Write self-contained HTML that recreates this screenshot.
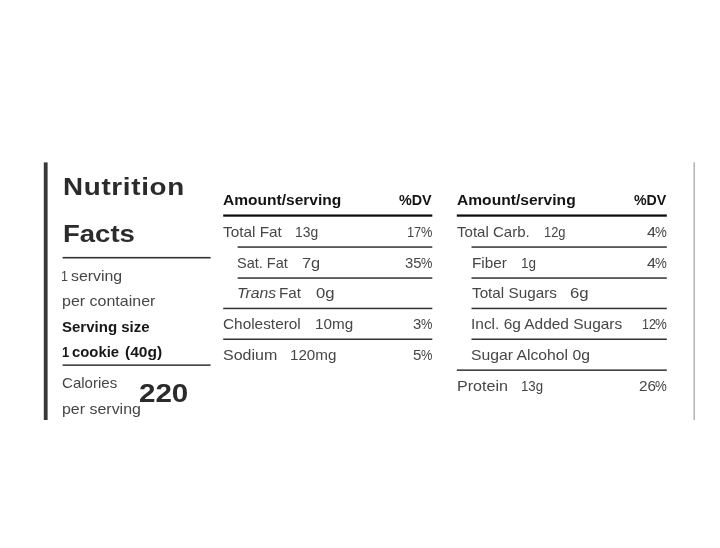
<!DOCTYPE html>
<html lang="en"><head><meta charset="utf-8"><title>Nutrition Facts</title>
<style>
html,body{margin:0;padding:0;background:#fff;}
body{width:720px;height:548px;position:relative;overflow:hidden;font-family:'Liberation Sans', sans-serif;}
.t{position:absolute;white-space:nowrap;transform-origin:0 0;}
.r{position:absolute;left:0;top:0;}
</style></head><body>
<svg class="r" width="720" height="548" viewBox="0 0 720 548">
<rect x="43.8" y="162.4" width="3.80" height="257.6" fill="#383838"/>
<rect x="62.6" y="256.9" width="148.00" height="1.6" fill="#323232"/>
<rect x="62.6" y="364.4" width="148.00" height="1.5" fill="#323232"/>
<rect x="693.45" y="162.2" width="1.55" height="257.8" fill="#b6b6b6"/>
<rect x="223.2" y="214.45" width="209.10" height="2.25" fill="#0c0c0c"/>
<rect x="237.6" y="246.3" width="194.70" height="1.5" fill="#323232"/>
<rect x="237.6" y="277.3" width="194.70" height="1.5" fill="#323232"/>
<rect x="223.2" y="307.7" width="209.10" height="1.5" fill="#323232"/>
<rect x="223.2" y="338.5" width="209.10" height="1.5" fill="#323232"/>
<rect x="456.8" y="214.45" width="210.00" height="2.25" fill="#0c0c0c"/>
<rect x="471.5" y="246.3" width="195.30" height="1.5" fill="#323232"/>
<rect x="471.5" y="277.3" width="195.30" height="1.5" fill="#323232"/>
<rect x="471.5" y="307.7" width="195.30" height="1.5" fill="#323232"/>
<rect x="471.5" y="338.5" width="195.30" height="1.5" fill="#323232"/>
<rect x="456.8" y="369.4" width="210.00" height="1.5" fill="#323232"/>
</svg>
<section class="facts-panel">
<span class="t" style="left:62.60px;top:175px;font-size:24.8px;line-height:24.8px;color:#2b2b2b;letter-spacing:0.617px;font-weight:700;transform:scaleX(1.1200);">Nutrition</span>
<span class="t" style="left:62.79px;top:222px;font-size:24.8px;line-height:24.8px;color:#2b2b2b;font-weight:700;transform:scaleX(1.1089);">Facts</span>
<span class="t" style="left:61.34px;top:269px;font-size:14.2px;line-height:14.2px;color:#464646;transform:scaleX(0.8736);">1</span>
<span class="t" style="left:71.17px;top:269px;font-size:14.2px;line-height:14.2px;color:#464646;transform:scaleX(1.1189);">serving</span>
<span class="t" style="left:62.45px;top:294px;font-size:14.2px;line-height:14.2px;color:#464646;transform:scaleX(1.1274);">per container</span>
<span class="t" style="left:62.07px;top:320px;font-size:14.2px;line-height:14.2px;color:#181818;font-weight:700;transform:scaleX(1.0585);">Serving size</span>
<span class="t" style="left:62.48px;top:345px;font-size:14.2px;line-height:14.2px;color:#181818;font-weight:700;transform:scaleX(0.9077);">1</span>
<span class="t" style="left:72.27px;top:345px;font-size:14.2px;line-height:14.2px;color:#181818;font-weight:700;transform:scaleX(1.0479);">cookie</span>
<span class="t" style="left:124.80px;top:345px;font-size:14.2px;line-height:14.2px;color:#181818;font-weight:700;transform:scaleX(1.0979);">(40g)</span>
<span class="t" style="left:62.14px;top:376px;font-size:14.2px;line-height:14.2px;color:#464646;transform:scaleX(1.0618);">Calories</span>
<span class="t" style="left:61.83px;top:402px;font-size:14.2px;line-height:14.2px;color:#464646;transform:scaleX(1.1240);">per serving</span>
<span class="t" style="left:139.30px;top:380px;font-size:26.4px;line-height:26.4px;color:#2b2b2b;font-weight:700;transform:scaleX(1.1197);">220</span>
</section>
<section class="facts-table">
<span class="t" style="left:223.06px;top:193px;font-size:14.0px;line-height:14.0px;color:#141414;font-weight:700;transform:scaleX(1.1098);">Amount/serving</span>
<span class="t" style="left:398.93px;top:193px;font-size:14.0px;line-height:14.0px;color:#141414;font-weight:700;transform:scaleX(1.0240);">%DV</span>
<span class="t" style="left:222.72px;top:225px;font-size:14.2px;line-height:14.2px;color:#464646;transform:scaleX(1.0822);">Total Fat</span>
<span class="t" style="left:294.82px;top:225px;font-size:14.2px;line-height:14.2px;color:#464646;transform:scaleX(0.9779);">13g</span>
<span class="t" style="left:407.47px;top:225px;font-size:14.2px;line-height:14.2px;color:#464646;transform:scaleX(0.9024);">17</span>
<span class="t" style="left:420.84px;top:225px;font-size:14.2px;line-height:14.2px;color:#464646;transform:scaleX(0.9031);">%</span>
<span class="t" style="left:236.61px;top:256px;font-size:14.2px;line-height:14.2px;color:#464646;transform:scaleX(1.0235);">Sat. Fat</span>
<span class="t" style="left:302.10px;top:256px;font-size:14.2px;line-height:14.2px;color:#464646;transform:scaleX(1.1554);">7g</span>
<span class="t" style="left:404.76px;top:256px;font-size:14.2px;line-height:14.2px;color:#464646;transform:scaleX(1.0426);">35</span>
<span class="t" style="left:420.84px;top:256px;font-size:14.2px;line-height:14.2px;color:#464646;transform:scaleX(0.9031);">%</span>
<span class="t" style="left:237.19px;top:286px;font-size:14.2px;line-height:14.2px;color:#464646;font-style:italic;transform:scaleX(1.1146);">Trans</span>
<span class="t" style="left:279.35px;top:286px;font-size:14.2px;line-height:14.2px;color:#464646;transform:scaleX(1.0730);">Fat</span>
<span class="t" style="left:316.20px;top:286px;font-size:14.2px;line-height:14.2px;color:#464646;transform:scaleX(1.1753);">0g</span>
<span class="t" style="left:222.72px;top:317px;font-size:14.2px;line-height:14.2px;color:#464646;transform:scaleX(1.0838);">Cholesterol</span>
<span class="t" style="left:315.33px;top:317px;font-size:14.2px;line-height:14.2px;color:#464646;transform:scaleX(1.0754);">10mg</span>
<span class="t" style="left:413.21px;top:317px;font-size:14.2px;line-height:14.2px;color:#464646;transform:scaleX(1.0464);">3</span>
<span class="t" style="left:420.84px;top:317px;font-size:14.2px;line-height:14.2px;color:#464646;transform:scaleX(0.9031);">%</span>
<span class="t" style="left:222.51px;top:348px;font-size:14.2px;line-height:14.2px;color:#464646;transform:scaleX(1.1272);">Sodium</span>
<span class="t" style="left:290.18px;top:348px;font-size:14.2px;line-height:14.2px;color:#464646;transform:scaleX(1.0690);">120mg</span>
<span class="t" style="left:412.78px;top:348px;font-size:14.2px;line-height:14.2px;color:#464646;transform:scaleX(1.0647);">5</span>
<span class="t" style="left:420.84px;top:348px;font-size:14.2px;line-height:14.2px;color:#464646;transform:scaleX(0.9031);">%</span>
</section>
<section class="facts-table">
<span class="t" style="left:457.25px;top:193px;font-size:14.0px;line-height:14.0px;color:#141414;font-weight:700;transform:scaleX(1.1136);">Amount/serving</span>
<span class="t" style="left:633.90px;top:193px;font-size:14.0px;line-height:14.0px;color:#141414;font-weight:700;transform:scaleX(1.0137);">%DV</span>
<span class="t" style="left:457.10px;top:225px;font-size:14.2px;line-height:14.2px;color:#464646;transform:scaleX(1.0597);">Total Carb.</span>
<span class="t" style="left:543.69px;top:225px;font-size:14.2px;line-height:14.2px;color:#464646;transform:scaleX(0.9091);">12g</span>
<span class="t" style="left:646.52px;top:225px;font-size:14.2px;line-height:14.2px;color:#464646;transform:scaleX(1.1351);">4</span>
<span class="t" style="left:655.14px;top:225px;font-size:14.2px;line-height:14.2px;color:#464646;transform:scaleX(0.9370);">%</span>
<span class="t" style="left:471.72px;top:256px;font-size:14.2px;line-height:14.2px;color:#464646;transform:scaleX(1.0760);">Fiber</span>
<span class="t" style="left:521.05px;top:256px;font-size:14.2px;line-height:14.2px;color:#464646;transform:scaleX(0.9503);">1g</span>
<span class="t" style="left:646.52px;top:256px;font-size:14.2px;line-height:14.2px;color:#464646;transform:scaleX(1.1351);">4</span>
<span class="t" style="left:655.14px;top:256px;font-size:14.2px;line-height:14.2px;color:#464646;transform:scaleX(0.9370);">%</span>
<span class="t" style="left:471.72px;top:286px;font-size:14.2px;line-height:14.2px;color:#464646;transform:scaleX(1.0759);">Total Sugars</span>
<span class="t" style="left:569.88px;top:286px;font-size:14.2px;line-height:14.2px;color:#464646;transform:scaleX(1.1783);">6g</span>
<span class="t" style="left:470.96px;top:317px;font-size:14.2px;line-height:14.2px;color:#464646;transform:scaleX(1.0891);">Incl. 6g Added Sugars</span>
<span class="t" style="left:642.13px;top:317px;font-size:14.2px;line-height:14.2px;color:#464646;transform:scaleX(0.8732);">12</span>
<span class="t" style="left:655.14px;top:317px;font-size:14.2px;line-height:14.2px;color:#464646;transform:scaleX(0.9370);">%</span>
<span class="t" style="left:470.91px;top:348px;font-size:14.2px;line-height:14.2px;color:#464646;transform:scaleX(1.1087);">Sugar Alcohol 0g</span>
<span class="t" style="left:456.82px;top:379px;font-size:14.2px;line-height:14.2px;color:#464646;transform:scaleX(1.1333);">Protein</span>
<span class="t" style="left:521.29px;top:379px;font-size:14.2px;line-height:14.2px;color:#464646;transform:scaleX(0.9337);">13g</span>
<span class="t" style="left:638.78px;top:379px;font-size:14.2px;line-height:14.2px;color:#464646;transform:scaleX(1.0755);">26</span>
<span class="t" style="left:655.14px;top:379px;font-size:14.2px;line-height:14.2px;color:#464646;transform:scaleX(0.9370);">%</span>
</section>
</body></html>
